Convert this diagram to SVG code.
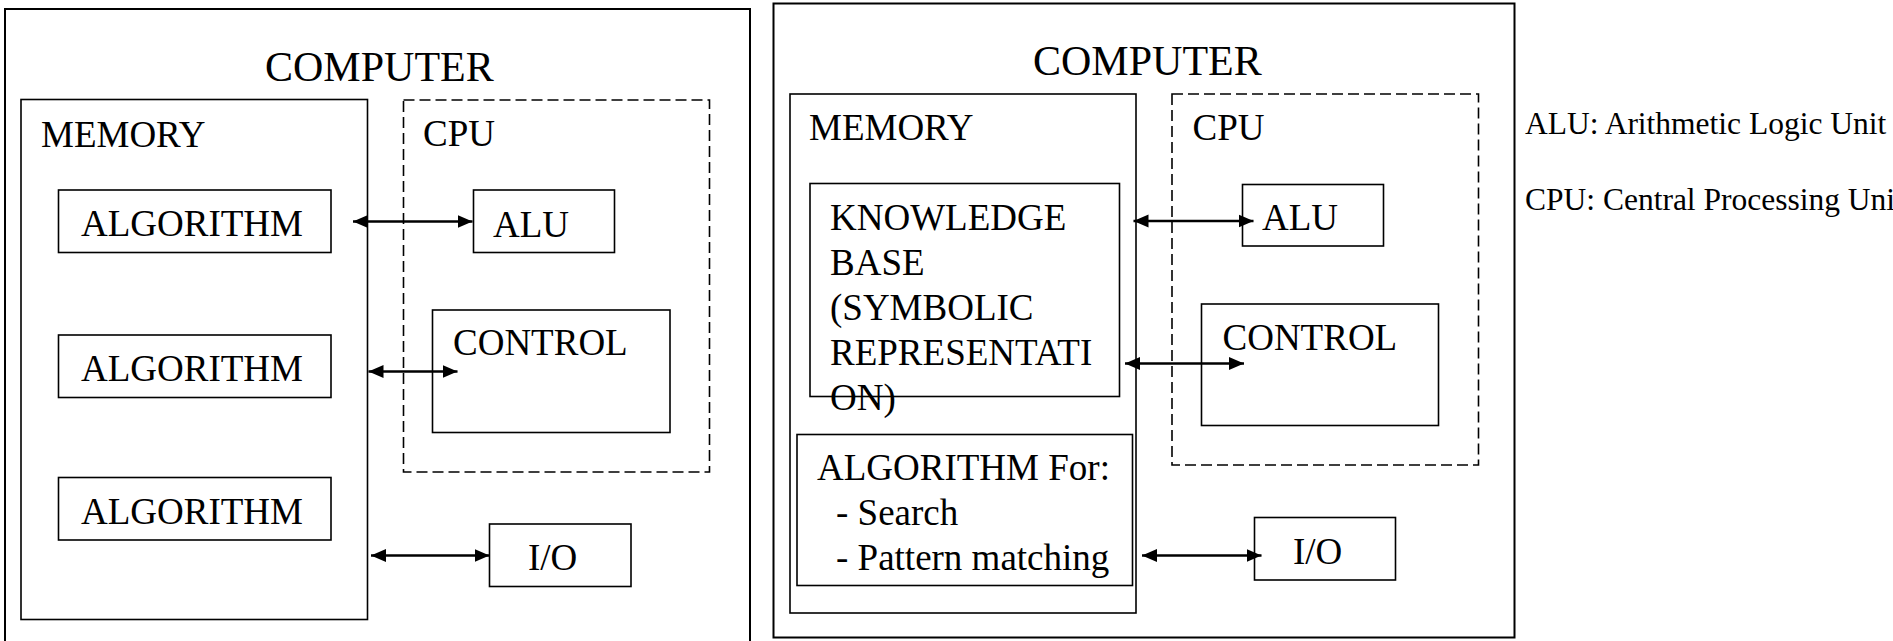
<svg xmlns="http://www.w3.org/2000/svg" width="1893" height="641" viewBox="0 0 1893 641">
<style>
  .box{fill:none;stroke:#000;stroke-width:1.6}
  .outer{fill:none;stroke:#000;stroke-width:2}
  .dash{fill:none;stroke:#000;stroke-width:1.6;stroke-dasharray:11 5}
  .t{font-family:"Liberation Serif","Times New Roman",serif;fill:#000;font-size:37px}
  .big{font-size:42px}
  .leg{font-size:31.5px}
  .arr{stroke:#000;stroke-width:2.5;fill:none;marker-start:url(#ah);marker-end:url(#ah)}
</style>
<defs>
  <marker id="ah" markerUnits="userSpaceOnUse" markerWidth="17" markerHeight="14" refX="15" refY="7" orient="auto-start-reverse">
    <path d="M0,0.5 L15,7 L0,13.5 z" fill="#000"/>
  </marker>
</defs>
<rect width="1893" height="641" fill="#fff"/>

<!-- LEFT DIAGRAM -->
<g id="computer1">
  <rect class="outer" x="5" y="9" width="745" height="645"/>
  <text class="t big" x="265" y="81">COMPUTER</text>
</g>
<g id="memory1">
  <rect class="box" x="21" y="99.5" width="346.5" height="520"/>
  <text class="t" x="41" y="147">MEMORY</text>
</g>
<g id="algorithm1a">
  <rect class="box" x="58.5" y="190" width="272.5" height="62.5"/>
  <text class="t" x="81" y="236">ALGORITHM</text>
</g>
<g id="algorithm1b">
  <rect class="box" x="58.5" y="335" width="272.5" height="62.5"/>
  <text class="t" x="81" y="381">ALGORITHM</text>
</g>
<g id="algorithm1c">
  <rect class="box" x="58.5" y="477.5" width="272.5" height="62.5"/>
  <text class="t" x="81" y="523.5">ALGORITHM</text>
</g>
<g id="cpu1">
  <rect class="dash" x="403.5" y="100" width="306" height="372"/>
  <text class="t" x="423" y="146">CPU</text>
</g>
<g id="alu1">
  <rect class="box" x="473.5" y="190" width="141" height="62.5"/>
  <text class="t" x="493" y="236.5">ALU</text>
</g>
<g id="control1">
  <rect class="box" x="432.5" y="310" width="237.5" height="122.5"/>
  <text class="t" x="453" y="355">CONTROL</text>
</g>
<g id="io1">
  <rect class="box" x="489.5" y="524" width="141.5" height="62.5"/>
  <text class="t" x="528" y="570">I/O</text>
</g>

<!-- RIGHT DIAGRAM -->
<g id="computer2">
  <rect class="outer" x="773.5" y="3.5" width="741" height="634"/>
  <text class="t big" x="1033" y="75">COMPUTER</text>
</g>
<g id="memory2">
  <rect class="box" x="790" y="94" width="346" height="519"/>
  <text class="t" x="809" y="139.5">MEMORY</text>
</g>
<g id="knowledge2">
  <rect class="box" x="810" y="183.5" width="309.5" height="213"/>
  <text class="t" x="830" y="230">KNOWLEDGE</text>
  <text class="t" x="830" y="275">BASE</text>
  <text class="t" x="830" y="320">(SYMBOLIC</text>
  <text class="t" x="830" y="365">REPRESENTATI</text>
  <text class="t" x="830" y="410">ON)</text>
</g>
<g id="algorithm2">
  <rect class="box" x="797" y="434.5" width="335.5" height="151"/>
  <text class="t" x="817" y="480">ALGORITHM For:</text>
  <text class="t" x="836" y="525">- Search</text>
  <text class="t" x="836" y="570">- Pattern matching</text>
</g>
<g id="cpu2">
  <rect class="dash" x="1172" y="94" width="306.5" height="371"/>
  <text class="t" x="1192.5" y="139.5">CPU</text>
</g>
<g id="alu2">
  <rect class="box" x="1242.5" y="184.5" width="141" height="61.5"/>
  <text class="t" x="1262" y="230">ALU</text>
</g>
<g id="control2">
  <rect class="box" x="1201.5" y="304" width="237" height="121.5"/>
  <text class="t" x="1222.5" y="349.5">CONTROL</text>
</g>
<g id="io2">
  <rect class="box" x="1254.5" y="517.5" width="141" height="62.5"/>
  <text class="t" x="1293" y="563.5">I/O</text>
</g>

<g id="legend">
  <text class="t leg" x="1525" y="133.5">ALU: Arithmetic Logic Unit</text>
  <text class="t leg" x="1525" y="210">CPU: Central Processing Uni</text>
</g>

<g id="connectors">
  <line class="arr" x1="353" y1="221.5" x2="472.5" y2="221.5"/>
  <line class="arr" x1="368.5" y1="371.5" x2="457.5" y2="371.5"/>
  <line class="arr" x1="371" y1="555.5" x2="489.5" y2="555.5"/>
  <line class="arr" x1="1133.5" y1="221" x2="1253.5" y2="221"/>
  <line class="arr" x1="1125" y1="363.5" x2="1244" y2="363.5"/>
  <line class="arr" x1="1142" y1="555.5" x2="1261.5" y2="555.5"/>
</g>
</svg>
